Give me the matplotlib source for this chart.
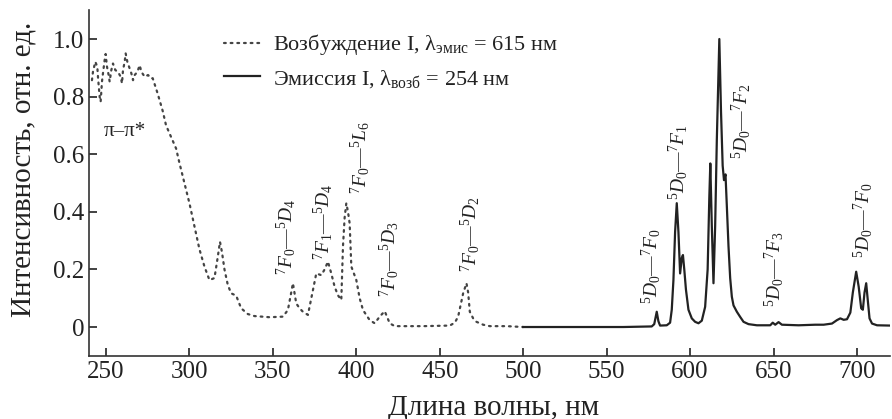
import matplotlib
matplotlib.use("Agg")
import matplotlib.pyplot as plt
from matplotlib.ticker import FuncFormatter

plt.rcParams['font.family'] = ['Liberation Serif', 'DejaVu Serif']
plt.rcParams['mathtext.fontset'] = 'custom'
plt.rcParams['mathtext.rm'] = 'Liberation Serif'
plt.rcParams['mathtext.it'] = 'Liberation Serif:italic'
plt.rcParams['mathtext.bf'] = 'Liberation Serif:bold'

# Excitation spectrum (dotted), lambda_em = 615 nm
exc_x = [241.6, 242.2, 243.6, 244.8, 245.2, 246.2, 246.8, 247.6, 248.2, 249.2, 249.8,
         250.6, 251.6, 252.2, 253.2, 254.2, 255.6, 257.2, 258.8, 259.6, 260.2, 261.2,
         261.8, 262.8, 263.8, 265.2, 266.2, 267.2, 268.8, 270.2, 271.2, 273.2, 275.2,
         277.2, 278, 281, 284, 286, 289, 292, 294, 297, 300, 303, 306, 309, 312, 315,
         317, 318.3, 319.5, 321, 323, 325, 328, 331, 335, 339, 348, 356, 359, 361, 362,
         364, 366, 368, 371, 374, 376, 379, 381, 383, 385, 387, 389, 391, 392, 393, 394,
         395, 396, 397, 400, 402, 404, 408, 411, 414, 417, 420, 423, 440, 456, 459, 461,
         463, 464, 466, 467, 468, 470, 472, 476, 480, 490, 500]
exc_y = [0.857, 0.886, 0.921, 0.904, 0.869, 0.800, 0.782, 0.852, 0.881, 0.927, 0.948,
         0.904, 0.875, 0.852, 0.892, 0.915, 0.892, 0.886, 0.869, 0.846, 0.892, 0.921,
         0.950, 0.921, 0.904, 0.881, 0.857, 0.875, 0.886, 0.909, 0.886, 0.869, 0.875,
         0.863, 0.864, 0.81, 0.75, 0.70, 0.66, 0.62, 0.57, 0.50, 0.43, 0.35, 0.27, 0.21,
         0.163, 0.17, 0.244, 0.296, 0.26, 0.20, 0.146, 0.117, 0.109, 0.065, 0.045, 0.038,
         0.034, 0.036, 0.059, 0.12, 0.152, 0.082, 0.065, 0.053, 0.042, 0.128, 0.186,
         0.18, 0.20, 0.227, 0.186, 0.14, 0.11, 0.094, 0.28, 0.38, 0.43, 0.40, 0.36, 0.21,
         0.163, 0.10, 0.059, 0.024, 0.013, 0.036, 0.055, 0.013, 0.003, 0.003, 0.005,
         0.015, 0.036, 0.09, 0.117, 0.152, 0.12, 0.053, 0.03, 0.018, 0.008, 0.003,
         0.003, 0.0]

# Emission spectrum (solid), lambda_ex = 254 nm
em_x = [500, 560, 577, 578.5, 580, 581, 582, 586, 588, 589, 590, 591, 592, 593, 594,
        595, 595.7, 596.5, 597.5, 599, 601, 603, 605, 607, 609, 610.5, 611.5, 612.1,
        613, 614, 615, 616, 617.5, 618.5, 619.5, 620.3, 621.2, 622, 623, 624, 625, 626,
        628, 630, 632, 635, 640, 648, 649.5, 651, 653, 655, 665, 675, 680, 685, 688,
        690, 692, 694, 696, 697.5, 699.5, 701, 702.5, 703.5, 704.5, 705.5, 706.5,
        707.5, 709, 712, 720]
em_y = [0.0, 0.0, 0.002, 0.01, 0.053, 0.02, 0.005, 0.006, 0.015, 0.06, 0.163, 0.33,
        0.43, 0.33, 0.186, 0.24, 0.25, 0.20, 0.13, 0.06, 0.03, 0.018, 0.013, 0.022,
        0.07, 0.20, 0.45, 0.568, 0.35, 0.152, 0.35, 0.65, 1.0, 0.75, 0.56, 0.51, 0.53,
        0.42, 0.28, 0.17, 0.105, 0.075, 0.053, 0.035, 0.018, 0.01, 0.006, 0.006, 0.015,
        0.008, 0.017, 0.008, 0.006, 0.008, 0.008, 0.012, 0.024, 0.03, 0.025, 0.027,
        0.05, 0.12, 0.192, 0.14, 0.065, 0.06, 0.12, 0.152, 0.09, 0.03, 0.012, 0.006,
        0.005]

x_ticks = [250, 300, 350, 400, 450, 500, 550, 600, 650, 700]
y_ticks = [0, 0.2, 0.4, 0.6, 0.8, 1.0]

ann_text = [r"$^{7}F_{0}$—$^{5}D_{4}$", r"$^{7}F_{1}$—$^{5}D_{4}$",
            r"$^{7}F_{0}$—$^{5}L_{6}$", r"$^{7}F_{0}$—$^{5}D_{3}$",
            r"$^{7}F_{0}$—$^{5}D_{2}$", r"$^{5}D_{0}$—$^{7}F_{0}$",
            r"$^{5}D_{0}$—$^{7}F_{1}$", r"$^{5}D_{0}$—$^{7}F_{2}$",
            r"$^{5}D_{0}$—$^{7}F_{3}$", r"$^{5}D_{0}$—$^{7}F_{0}$"]
ann_x = [357.9, 380.1, 402.3, 419.7, 468.2, 576.7, 592.6, 630.7, 650.5, 703.5]
ann_y = [0.3125, 0.365, 0.587, 0.236, 0.323, 0.212, 0.573, 0.715, 0.20, 0.37]

fig = plt.figure(figsize=(8.92, 4.19), dpi=100)
ax = fig.add_axes([0.1001, 0.1508, 0.8981, 0.8248])

ax.plot(exc_x, exc_y, color='#444444', lw=1.6, linestyle=(0, (0.8, 2.2)),
        dash_capstyle='round',
        label=r"Возбуждение I, λ$_{\mathregular{эмис}}$ = 615 нм")
ax.plot(em_x, em_y, color='#222222', lw=1.6,
        label=r"Эмиссия I, λ$_{\mathregular{возб}}$ = 254 нм")

for t, x, y in zip(ann_text, ann_x, ann_y):
    ax.text(x, y, t, rotation=90, ha='center', va='center', fontsize=14,
            color='#222222')
ax.text(261.4, 0.68, "π–π*", ha='center', va='center', fontsize=15, color='#222222')

ax.set_xlim(240, 720)
ax.set_ylim(-0.1, 1.1)
ax.set_xticks(x_ticks)
ax.set_yticks(y_ticks)
ax.yaxis.set_major_formatter(FuncFormatter(lambda v, p: '0' if v == 0 else f'{v:.1f}'))
for s in ['top', 'right']:
    ax.spines[s].set_visible(False)
for s in ['left', 'bottom']:
    ax.spines[s].set_linewidth(1.2)
    ax.spines[s].set_color('#333333')
ax.tick_params(direction='in', length=6, width=1.2, labelsize=18, colors='#222222')

ax.set_xlabel("Длина волны, нм", fontsize=21, color='#222222')
ax.set_ylabel("Интенсивность, отн. ед.", fontsize=21, color='#222222')
ax.xaxis.set_label_coords(0.505, -0.112)
ax.yaxis.set_label_coords(-0.066, 0.54)

leg = ax.legend(loc='upper left', bbox_to_anchor=(0.168, 0.936), frameon=False,
                fontsize=16, handlelength=1.62, handletextpad=0.59, labelspacing=0.47,
                borderaxespad=0, borderpad=0)
for t in leg.get_texts():
    t.set_color('#222222')

fig.savefig("out.png", dpi=100)
